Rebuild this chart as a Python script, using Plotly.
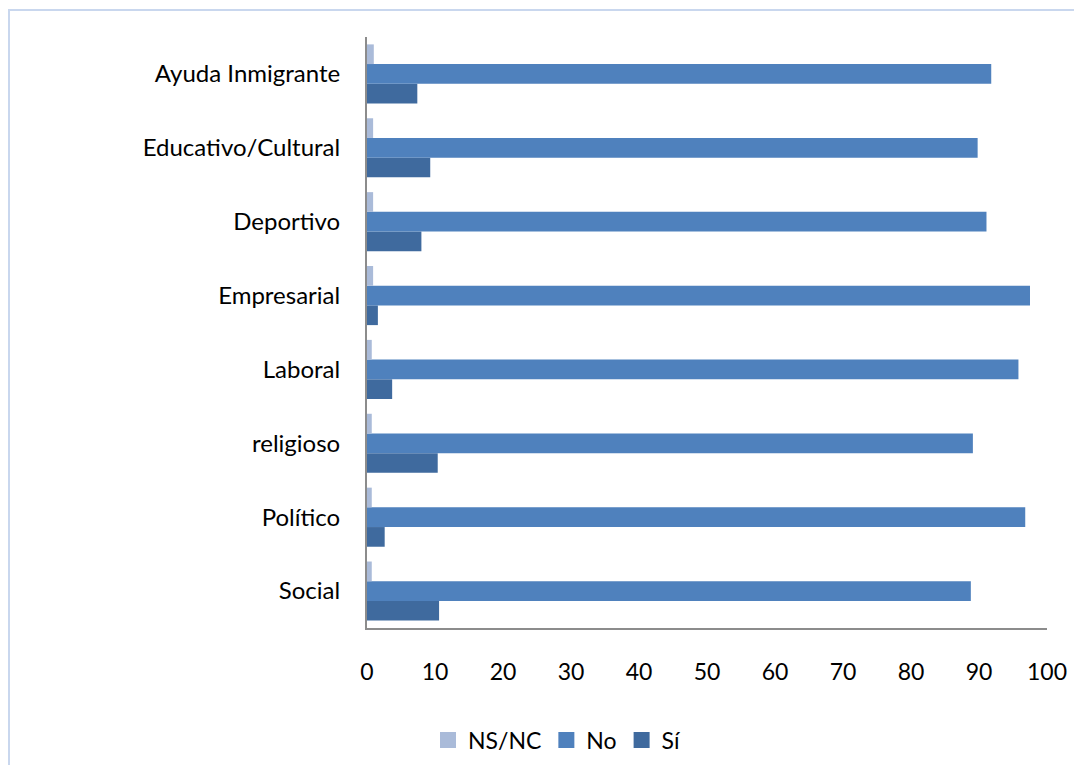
import plotly.graph_objects as go

categories = ["Social", "Político", "religioso", "Laboral", "Empresarial",
              "Deportivo", "Educativo/Cultural", "Ayuda Inmigrante"]
si = [10.6, 2.6, 10.4, 3.7, 1.6, 8.0, 9.3, 7.4]
no = [88.8, 96.8, 89.1, 95.8, 97.5, 91.1, 89.8, 91.8]
nsnc = [0.7, 0.7, 0.7, 0.7, 0.9, 0.9, 0.9, 1.0]
x_ticks = [0, 10, 20, 30, 40, 50, 60, 70, 80, 90, 100]

FONT = "Lato"
C_SI, C_NO, C_NS = "#3F6A9E", "#4F81BD", "#AABBD9"

fig = go.Figure()
fig.add_trace(go.Bar(y=categories, x=si, name="Sí", orientation="h",
                     marker=dict(color=C_SI, line=dict(width=0)), showlegend=False))
fig.add_trace(go.Bar(y=categories, x=no, name="No", orientation="h",
                     marker=dict(color=C_NO, line=dict(width=0)), showlegend=False))
fig.add_trace(go.Bar(y=categories, x=nsnc, name="NS/NC", orientation="h",
                     marker=dict(color=C_NS, line=dict(width=0)), showlegend=False))
# legend entries with larger square swatches
for name, col in [("NS/NC", C_NS), ("No", C_NO), ("Sí", C_SI)]:
    fig.add_trace(go.Scatter(x=[None], y=[None], mode="markers", name=name,
                             marker=dict(symbol="square", size=19, color=col),
                             showlegend=True))

OFF = 8  # page body margin
W, H = 1082 - 2 * OFF, 773 - 2 * OFF
L = 367 - OFF
T = 37 - OFF
plot_right = 1047 - OFF
plot_bottom = 628 - OFF
R = W - plot_right
B = H - plot_bottom
pw, ph = W - L - R, H - T - B

def px(xpage):
    return (xpage - OFF - L) / pw

def py(ypage):
    return (plot_bottom - (ypage - OFF)) / ph

fig.update_layout(
    width=W, height=H,
    margin=dict(l=L, r=R, t=T, b=B, autoexpand=False),
    barmode="group", bargap=0.2, bargroupgap=0,
    plot_bgcolor="white", paper_bgcolor="white",
    font=dict(family=FONT, size=24, color="#000000"),
    legend=dict(orientation="h",
                x=px(557), xanchor="center", y=py(740), yanchor="middle",
                font=dict(size=23), itemwidth=30),
    xaxis=dict(range=[0, 100], tickvals=x_ticks, showgrid=False,
               showline=True, linecolor="#8C8C8C", linewidth=2,
               ticks="", zeroline=False, ticklabelstandoff=22,
               tickfont=dict(size=23)),
    yaxis=dict(showgrid=False, showline=True, linecolor="#8C8C8C", linewidth=2,
               ticks="", ticklabelstandoff=20, tickfont=dict(size=24)),
    shapes=[dict(type="path", xref="paper", yref="paper",
                 path=f"M {px(9)} {py(800)} L {px(9)} {py(10)} L {px(1100)} {py(10)}",
                 line=dict(color="#C9D7EE", width=2), layer="below")],
)

fig.write_html("out.html")
